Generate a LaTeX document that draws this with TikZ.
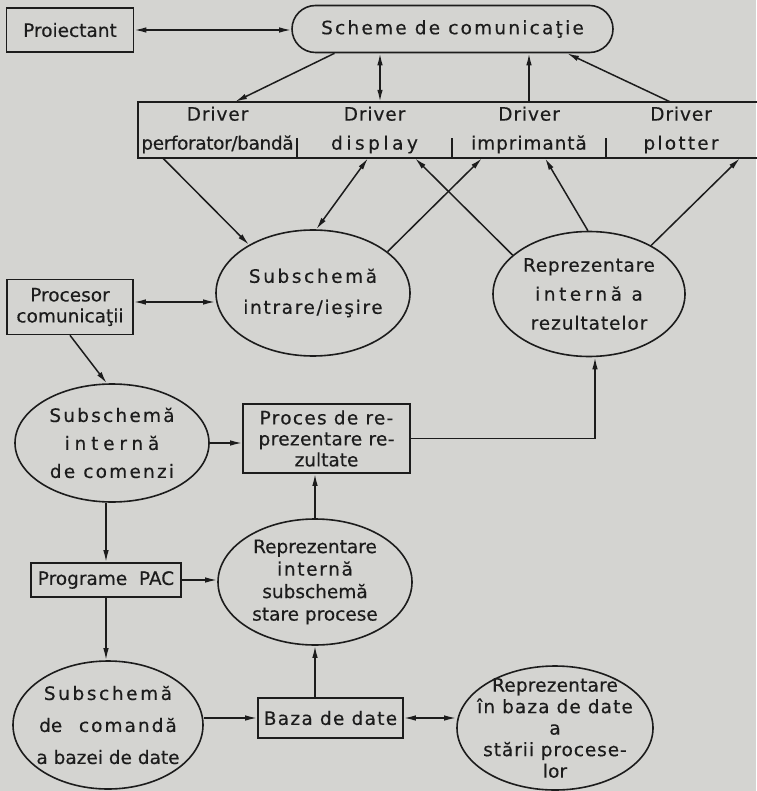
\documentclass[tikz,border=0pt]{standalone}
\usepackage{fontspec}
\setmainfont[FakeBold=0.4]{DejaVu Sans}
\usetikzlibrary{arrows.meta,shapes.geometric,shapes.misc}

\newcommand{\lsp}[2]{{\addfontfeatures{LetterSpace=#1}#2}}

\begin{document}
\begin{tikzpicture}[>={Latex[length=12pt,width=5.5pt]}, x=1pt, y=-1pt]

\definecolor{paper}{RGB}{212,212,209}
\definecolor{ink}{RGB}{28,28,28}

% Background (scanned page)
\fill[paper] (0,0) rectangle (756,791);
\useasboundingbox (0,0) rectangle (756,791);

\tikzset{
    lines/.style={font=\fontsize{18.5}{#1}\selectfont},
    block/.style 2 args={
        draw=ink, line width=1.6pt, rectangle,
        minimum width=#1, minimum height=#2, inner sep=0pt,
        text=ink, align=center, lines=21
    },
    oval/.style 2 args={
        draw=ink, line width=1.6pt, ellipse,
        minimum width=#1, minimum height=#2, inner sep=-18pt,
        text=ink, align=center, lines=23
    },
    drv/.style={
        rectangle, minimum width=#1, minimum height=56, inner sep=0pt,
        text=ink, align=center, lines=29
    },
    flow/.style={draw=ink, line width=1.5pt}
}

% --- TOP ROW ---
\node[block={127}{44}] (proj) at (70,30) {Proiectant};
\node[draw=ink, line width=1.6pt, rounded rectangle, minimum width=321, minimum height=47,
      inner sep=0pt, text=ink, lines=21] (schem) at (452.5,29) {\lsp{12}{Scheme de comunicaţie}};

% Driver strip
\node[drv=159] (dperf) at (217.5,130) {\lsp{5}{Driver}\\\lsp{-2}{perforator/bandă}};
\node[drv=155] (ddisp) at (374.5,130) {\lsp{5}{Driver}\\\lsp{19}{display}};
\node[drv=154] (dimpr) at (529,130) {\lsp{5}{Driver}\\\lsp{5}{imprimantă}};
\node[drv=150] (dplot) at (681,130) {\lsp{5}{Driver}\\\lsp{12}{plotter}};
\draw[flow, line width=1.6pt] (dperf.north west) rectangle ([xshift=6pt]dplot.south east);
\foreach \d in {dperf,ddisp,dimpr}
    \draw[flow] (\d.south east) -- ++(0,-20);

% --- ELLIPSES AND BOXES ---
\node[oval={194}{126}, lines=31] (subio) at (313,293) {\lsp{14}{Subschemă}\\\lsp{9}{intrare/ieşire}};
\node[oval={192}{125}, lines=29] (reprez) at (589,294) {\lsp{4}{Reprezentare}\\\lsp{19}{internă a}\\\lsp{5}{rezultatelor}};
\node[block={126}{55}] (proc) at (70,307) {Procesor\\comunicaţii};
\node[oval={194}{118}, lines=28] (subcmd) at (112,443) {\lsp{12}{Subschemă}\\\lsp{26}{internă}\\\lsp{12}{de comenzi}};
\node[block={167}{69}] (procrep) at (326.5,438.5) {\lsp{7}{Proces de re-}\\\lsp{2}{prezentare re-}\\zultate};
\node[block={150}{34}] (pac) at (106,580) {Programe\ \ PAC};
\node[oval={194}{126}, lines=22.5] (stare) at (315,582) {Reprezentare\\\lsp{9}{internă}\\subschemă\\stare procese};
\node[oval={190}{128}, lines=32] (cmdbd) at (108,725) {\lsp{14}{Subschemă}\\de\hspace{0.9em}\lsp{11}{comandă}\\a bazei de date};
\node[block={145}{40}] (bd) at (330.5,718) {\lsp{7}{Baza de date}};
\node[oval={196}{124}, lines=21.5] (bdrep) at (555,728) {\lsp{1}{Reprezentare}\\\lsp{6}{în baza de date}\\a\\\lsp{5}{stării procese-}\\lor};

% --- CONNECTORS ---
% Top
\draw[flow,<->] (proj.east) -- (proj.east -| schem.west);
\draw[flow,->] ([xshift=-118]schem.south) -- ([xshift=17.5]dperf.north);
\draw[flow,<->] ([xshift=-72.5]schem.south) -- ([xshift=5.5]ddisp.north);
\draw[flow,->] (dimpr.north) -- (dimpr.north |- schem.south);
\draw[flow,->] ([xshift=-11]dplot.north) -- ([xshift=114.5]schem.south);

% Drivers and the two upper ellipses
\draw[flow,->] ([xshift=-54.5]dperf.south) -- (subio.143);
\draw[flow,<->] ([xshift=-6.5]ddisp.south) -- (subio.87);
\draw[flow,->] (subio.29) -- ([xshift=-47]dimpr.south);
\draw[flow,->] (reprez.153) -- ([xshift=40.5]ddisp.south);
\draw[flow,->] (reprez.91) -- ([xshift=16]dimpr.south);
\draw[flow,->] (reprez.38) -- ([xshift=59]dplot.south);

% Middle
\draw[flow,<->] ([yshift=5]proc.east) -- ([yshift=5]proc.east -| subio.west);
\draw[flow,->] (proc.south) -- (subcmd.95);
\draw[flow,->] (subcmd.east) -- (subcmd.east -| procrep.west);
\draw[flow,->] (procrep.east) -| ([xshift=6]reprez.south);
\draw[flow,->] (pac.north |- subcmd.south) -- (pac.north);

% Bottom
\draw[flow,->] (pac.east) -- (pac.east -| stare.west);
\draw[flow,->] (pac.south) -- (pac.south |- cmdbd.north);
\draw[flow,->] (stare.north) -- (stare.north |- procrep.south);
\draw[flow,->] (bd.west -| cmdbd.east) -- (bd.west);
\draw[flow,->] (stare.south |- bd.north) -- (stare.south);
\draw[flow,<->] (bd.east) -- (bd.east -| bdrep.west);

\end{tikzpicture}
\end{document}
